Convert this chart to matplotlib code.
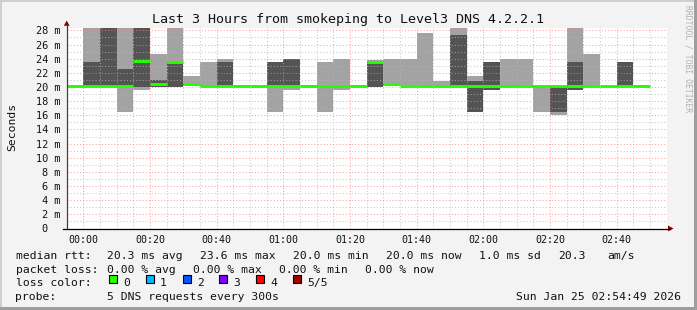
#!/usr/bin/env python3

import numpy as np
import matplotlib
matplotlib.use("Agg")
import matplotlib.pyplot as plt
from matplotlib.patches import Rectangle, Polygon

# 5 minute bins, start of bin in minutes after 00:00
bin_start = np.arange(-5, 170, 5)
# sorted ping rtt per bin (ms): min, 2nd, median, 4th, max
rtt_min = [20.1, 20.0, 20.0, 16.4, 19.6, 20.0, 20.0, 20.1, 20.0, 20.0, 20.1, 20.1,
           16.4, 19.6, 20.1, 16.4, 19.6, 20.1, 20.0, 20.1, 20.1, 20.1, 20.1, 20.0,
           16.4, 19.6, 20.0, 20.0, 16.4, 16.0, 19.6, 20.0, 20.1, 20.0, 20.1]
rtt_q1 = [20.1, 20.0, 20.0, 20.0, 20.0, 20.0, 20.0, 20.1, 20.1, 20.0, 20.1, 20.1,
          20.0, 20.0, 20.1, 20.0, 20.0, 20.1, 20.0, 20.1, 20.1, 20.1, 20.1, 20.0,
          16.4, 19.6, 20.0, 20.0, 20.0, 16.4, 19.6, 20.0, 20.1, 20.0, 20.1]
rtt_median = [20.2, 20.1, 20.1, 20.1, 23.7, 20.4, 23.6, 20.4, 20.1, 20.1, 20.1, 20.1,
              20.1, 20.1, 20.1, 20.1, 20.1, 20.1, 23.6, 20.4, 20.1, 20.1, 20.1, 20.1,
              20.1, 20.1, 20.1, 20.1, 20.1, 20.1, 20.1, 20.1, 20.1, 20.1, 20.1]
rtt_q3 = [20.2, 23.6, 29.5, 22.5, 29.5, 21.0, 23.6, 20.4, 20.1, 23.6, 20.3, 20.1,
          23.6, 24.0, 20.3, 20.2, 20.2, 20.3, 23.6, 20.4, 20.1, 20.1, 20.1, 27.3,
          20.8, 23.6, 20.3, 20.1, 20.1, 20.1, 23.6, 20.2, 20.1, 23.6, 20.3]
rtt_max = [20.3, 30.0, 30.0, 30.0, 30.0, 24.6, 30.0, 21.5, 23.6, 24.0, 20.3, 20.1,
           23.6, 24.0, 20.3, 23.6, 24.0, 20.3, 23.8, 24.0, 24.0, 27.6, 20.8, 30.0,
           21.5, 23.6, 24.0, 24.0, 20.3, 20.2, 30.0, 24.7, 20.1, 23.6, 20.3]

time_ticks = [0, 20, 40, 60, 80, 100, 120, 140, 160]
time_labels = ["00:00", "00:20", "00:40", "01:00", "01:20", "01:40", "02:00", "02:20", "02:40"]
ms_ticks = list(range(0, 29, 2))
ms_labels = ["0"] + [f"{v} m" for v in ms_ticks[1:]]

legend_rtt = ["median rtt:", "20.3 ms avg", "23.6 ms max", "20.0 ms min", "20.0 ms now",
              "1.0 ms sd", "20.3", "am/s"]
legend_loss = ["packet loss:", "0.00 % avg", "0.00 % max", "0.00 % min", "0.00 % now"]
loss_names = ["0", "1", "2", "3", "4", "5/5"]
loss_colors = ["#26ff00", "#00b8ff", "#0059ff", "#7e00ff", "#ff0000", "#a10000"]

W, H = 697, 310
plt.rcParams['font.family'] = 'DejaVu Sans Mono'
fig = plt.figure(figsize=(W / 100, H / 100), dpi=100, facecolor='#f3f3f3')

# plot area in pixels
px_left, px_right, px_top, px_bot = 66.7, 666.7, 28.3, 228.5
ax = fig.add_axes([px_left / W, (H - px_bot) / H, (px_right - px_left) / W, (px_bot - px_top) / H])
ax.set_facecolor('white')
ax.set_xlim(-5, 175)
ax.set_ylim(0, 28.3)

# smoke: outer band light, inner band dark, median in loss colour
ax.bar(bin_start, np.array(rtt_max) - np.array(rtt_min), bottom=rtt_min, width=5,
       align='edge', color='#a3a3a3', linewidth=0, zorder=1)
ax.bar(bin_start, np.array(rtt_q3) - np.array(rtt_q1), bottom=rtt_q1, width=5,
       align='edge', color='#545454', linewidth=0, zorder=1.1)
ax.hlines(rtt_median, bin_start, bin_start + 5, colors='#26ff00', linewidth=2.1, zorder=3)

# grid (drawn over the smoke, like rrdtool)
ax.set_xticks(time_ticks, time_labels)
ax.set_xticks([m for m in range(5, 180, 5) if m % 20 != 0], minor=True)
ax.set_yticks(ms_ticks, ms_labels)
ax.set_yticks(range(1, 29, 2), minor=True)
ax.set_axisbelow(False)
ax.grid(which='major', color='#ff8080', alpha=0.75, linestyle=(0, (1, 2)), linewidth=0.75)
ax.grid(which='minor', color='#b8b8b8', alpha=0.75, linestyle=(0, (1, 2)), linewidth=0.75)
ax.tick_params(which='both', length=0)
ax.tick_params(axis='y', pad=4.6, labelsize=7.4, labelcolor='#111111')
ax.tick_params(axis='x', pad=4.6, labelsize=7.2, labelcolor='#111111')
# "0" lines up with the digits of "2 m"
ax.yaxis.get_major_ticks()[0].set_pad(4.6 + 2 * 0.602 * 7.4)
for s in ax.spines.values():
    s.set_visible(False)

# overlay in pixel coordinates for frame, axis arrows and legend text
ov = fig.add_axes([0, 0, 1, 1])
ov.set_xlim(0, W)
ov.set_ylim(H, 0)
ov.axis('off')

ov.add_patch(Rectangle((0, 0), W, 2, color='#cfcfcf', lw=0))
ov.add_patch(Rectangle((0, 0), 2, H, color='#cfcfcf', lw=0))
ov.add_patch(Rectangle((0, H - 3), W, 3, color='#9e9e9e', lw=0))
ov.add_patch(Rectangle((W - 3, 0), 3, H, color='#9e9e9e', lw=0))

ov.plot([px_left, px_left], [px_bot, 25], color='#404040', lw=0.9)
ov.plot([63, 670], [px_bot, px_bot], color='black', lw=0.9)
ov.add_patch(Polygon([(63.8, 25.8), (69.6, 25.8), (66.7, 20.5)], color='#8b0000', lw=0))
ov.add_patch(Polygon([(668, 225.6), (668, 231.4), (673.5, 228.5)], color='#8b0000', lw=0))

ov.text(W / 2, 22.6, "Last 3 Hours from smokeping to Level3 DNS 4.2.2.1",
        ha='center', va='baseline', fontsize=9.6, color='#111111')
ov.text(12, 127, "Seconds", rotation=90, ha='center', va='center', fontsize=8.2, color='#111111')
ov.text(688, 5, "RRDTOOL / TOBI OETIKER", rotation=-90, ha='center', va='top',
        fontsize=5.8, color='#b0b0b0')

lfs = 8.2
rtt_x = [15.5, 106.8, 199.5, 292.8, 385.5, 478.8, 557.8, 606.8]
for x, s in zip(rtt_x, legend_rtt):
    ov.text(x, 259.2, s, ha='left', va='baseline', fontsize=lfs, color='#111111')
loss_x = [15.5, 106.8, 192.8, 278.8, 364.8]
for x, s in zip(loss_x, legend_loss):
    ov.text(x, 272.8, s, ha='left', va='baseline', fontsize=lfs, color='#111111')
ov.text(15.5, 286.4, "loss color:", ha='left', va='baseline', fontsize=lfs, color='#111111')
box_x = [108.5, 145.7, 182.7, 219.3, 256.0, 293.3]
for x, name, c in zip(box_x, loss_names, loss_colors):
    ov.add_patch(Rectangle((x, 274.5), 8, 8, facecolor=c, edgecolor='black', lw=0.8))
    ov.text(x + 14.3, 286.4, name, ha='left', va='baseline', fontsize=lfs, color='#111111')
ov.text(15.5, 300.0, "probe:", ha='left', va='baseline', fontsize=lfs, color='#111111')
ov.text(106.8, 300.0, "5 DNS requests every 300s", ha='left', va='baseline', fontsize=lfs, color='#111111')
ov.text(680.5, 300.0, "Sun Jan 25 02:54:49 2026", ha='right', va='baseline', fontsize=lfs, color='#111111')

fig.savefig("out.png", dpi=100, facecolor=fig.get_facecolor())
